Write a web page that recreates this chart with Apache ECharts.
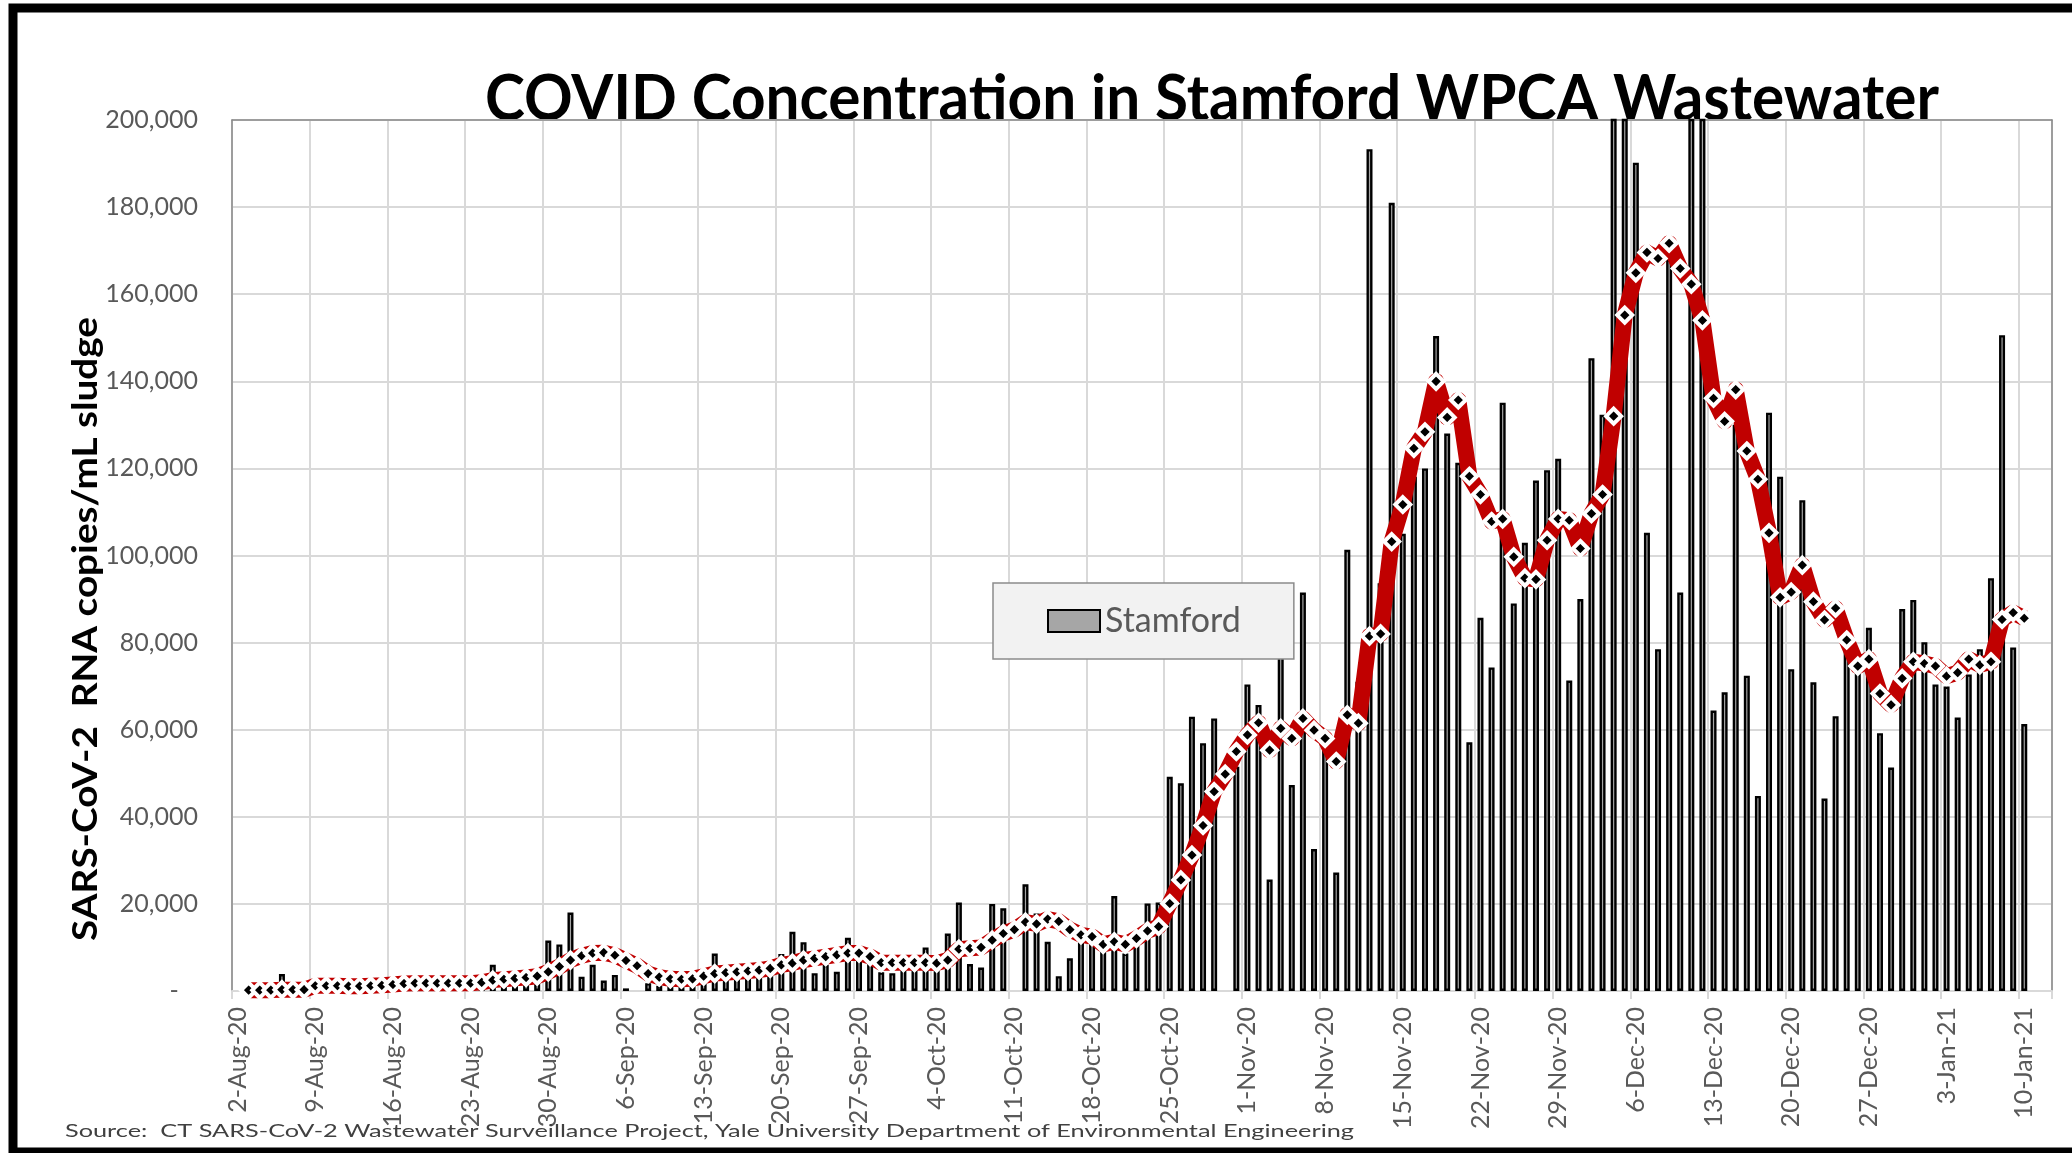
<!DOCTYPE html>
<html>
<head>
<meta charset="utf-8">
<title>COVID Concentration in Stamford WPCA Wastewater</title>
<script src="https://cdn.jsdelivr.net/npm/echarts@6/dist/echarts.min.js"></script>
<style>
  html, body { margin: 0; padding: 0; background: #fff; }
  #chart { width: 2072px; height: 1153px; }
</style>
</head>
<body>
<div id="chart"></div>
<script>
// one category per day, 2-Aug-20 .. 12-Jan-21
const firstDay = new Date(2020, 7, 2);
const dayCount = 164;
const monthNames = ['Jan','Feb','Mar','Apr','May','Jun','Jul','Aug','Sep','Oct','Nov','Dec'];

// daily SARS-CoV-2 RNA copies/mL sludge (bars), one row per week starting Sunday
const stamfordCopies = [
  null, null, null, null, 3900, null, null,                 // 2-Aug
  1200, 1000, 1300, 900, 1100, 1400, 1600,                  // 9-Aug
  2000, 1900, 1700, 1800, 1600, 2000, 1700,                 // 16-Aug
  1800, 2100, 6000, 2000, 1500, 2200, 2800,                 // 23-Aug
  11600, 10700, 18000, 3300, 6000, 2400, 3700,              // 30-Aug
  600, null, 1800, 1200, 1500, 1400, 2300,                  // 6-Sep
  2500, 8600, 5500, 4500, 3500, 4800, 6600,                 // 13-Sep
  8500, 13600, 11200, 4100, 6000, 4400, 12200,              // 20-Sep
  9000, 7000, 4300, 4100, 6000, 6000, 10000,                // 27-Sep
  6000, 13200, 20300, 6200, 5400, 20000, 19000,             // 4-Oct
  null, 24500, 17800, 11300, 3400, 7500, 12000,             // 11-Oct
  11000, 10000, 21800, 8600, 10500, 20100, 20300,           // 18-Oct
  49200, 47700, 63000, 56900, 62600, null, 51500,           // 25-Oct
  70400, 65700, 25600, 85000, 47300, 91500, 32600,          // 1-Nov
  58000, 27200, 101300, 71000, 193300, 93600, 181000,       // 8-Nov
  105000, 118100, 120000, 150400, 128000, 121300, 57100,    // 15-Nov
  85700, 74300, 135100, 89000, 102900, 117200, 119600,      // 22-Nov
  122200, 71300, 90000, 145300, 132300, 230000, 230000,     // 29-Nov
  190200, 105200, 78500, 168000, 91500, 230000, 230000,     // 6-Dec
  64400, 68600, 130000, 72400, 44800, 132800, 118100,       // 13-Dec
  73900, 112700, 70900, 44200, 63100, 79000, 74000,         // 20-Dec
  83400, 59200, 51300, 87700, 89800, 80100, 70400,          // 27-Dec
  69900, 62800, 72700, 78500, 94800, 150600, 78900,         // 3-Jan
  61300, null, null                                         // 10-Jan
];

// trailing average drawn as the red line
const trendCopies = [
  null, 200, 200, 200, 300, 300, 300,
  1200, 1200, 1200, 1100, 1100, 1200, 1300,
  1500, 1700, 1800, 1800, 1800, 1800, 1800,
  1800, 2000, 2500, 2700, 2900, 3100, 3400,
  4400, 5600, 7100, 8100, 8700, 8800, 8200,
  7000, 5800, 4000, 3200, 2800, 2700, 2800,
  3400, 4000, 4200, 4400, 4600, 4800, 5200,
  6000, 6400, 7100, 7500, 7900, 8300, 8700,
  8700, 7900, 6500, 6500, 6500, 6500, 6500,
  6400, 7100, 9600, 9800, 10000, 11700, 13200,
  14100, 15800, 15400, 16500, 16000, 14100, 12900,
  12500, 10700, 11300, 10700, 12100, 13800, 14800,
  20100, 25500, 31200, 38000, 45800, 49800, 55000,
  58800, 61600, 55300, 60300, 58000, 62600, 59900,
  58000, 52700, 63400, 61500, 81500, 82000, 103200,
  111700, 124600, 128400, 140000, 131700, 135700, 118200,
  114000, 107800, 108400, 99700, 94800, 94500, 103500,
  108400, 108100, 101600, 109600, 114000, 132000, 155200,
  164900, 169600, 168200, 171700, 165900, 162300, 154000,
  136100, 130800, 138100, 124000, 117500, 105200, 90400,
  91600, 97800, 89400, 85200, 87900, 80600, 74600,
  76200, 68300, 65700, 71800, 75600, 75200, 74600,
  72300, 73100, 76200, 74900, 75600, 85300, 86900,
  85600, null, null
];

const yMax = 200000;
const yStep = 20000;

const titleText = 'COVID Concentration in Stamford WPCA Wastewater';
const yNameText = 'SARS-CoV-2  RNA copies/mL sludge';
const sourceText = 'Source:  CT SARS-CoV-2 Wastewater Surveillance Project, Yale University Department of Environmental Engineering';

const dates = [];
for (let i = 0; i < dayCount; i++) {
  const d = new Date(firstDay.getFullYear(), firstDay.getMonth(), firstDay.getDate() + i);
  dates.push(d.getDate() + '-' + monthNames[d.getMonth()] + '-' + String(d.getFullYear()).slice(2));
}

// Calibri is not installed: squeeze Lato to the same text widths
const measureCtx = document.createElement('canvas').getContext('2d');
function fitScale(text, font, width) {
  measureCtx.font = font;
  return width / measureCtx.measureText(text).width;
}

const titleFont = 'bold 64px Lato';
const yNameFont = 'bold 35px Lato';
const sourceFont = '18px Lato';
const gridGrey = '#d9d9d9';
const frameGrey = '#898989';
const labelGrey = '#595959';

const chart = echarts.init(document.getElementById('chart'));
chart.setOption({
  animation: false,
  backgroundColor: '#fff',
  grid: { left: 232, top: 120, right: 20, bottom: 162, containLabel: false, outerBoundsMode: 'none' },
  legend: {
    data: ['Stamford'],
    left: 993, top: 583,
    padding: [21, 53, 21, 54],
    backgroundColor: '#f2f2f2',
    borderColor: '#8c8c8c',
    borderWidth: 1.5,
    borderRadius: 0,
    icon: 'rect',
    itemWidth: 52,
    itemHeight: 22,
    selectedMode: false,
    itemStyle: { color: '#a6a6a6', borderColor: '#000', borderWidth: 2 },
    textStyle: { fontFamily: 'Lato', fontSize: 34, color: labelGrey }
  },
  xAxis: [{
    type: 'category',
    data: dates,
    boundaryGap: true,
    axisLine: { show: true, lineStyle: { color: gridGrey, width: 2 } },
    axisTick: { show: true, interval: 6, length: 8, lineStyle: { color: gridGrey, width: 2 } },
    axisLabel: { interval: 6, rotate: 90, margin: 16, fontFamily: 'Lato', fontSize: 25, color: labelGrey },
    splitLine: { show: true, interval: 6, lineStyle: { color: gridGrey, width: 2 } }
  }, {
    type: 'category',
    data: dates,
    position: 'top',
    axisLine: { show: true, onZero: false, lineStyle: { color: frameGrey, width: 1.5 } },
    axisTick: { show: false },
    axisLabel: { show: false },
    splitLine: { show: false }
  }],
  yAxis: [{
    type: 'value',
    min: 0, max: yMax, interval: yStep,
    axisLine: { show: true, lineStyle: { color: frameGrey, width: 1.5 } },
    axisTick: { show: false },
    axisLabel: {
      margin: 34, fontFamily: 'Lato', fontSize: 25, color: labelGrey,
      formatter: v => v === 0 ? '-   ' : v.toLocaleString('en-US')
    },
    splitLine: { show: true, lineStyle: { color: gridGrey, width: 2 } }
  }, {
    type: 'value',
    min: 0, max: yMax, interval: yStep,
    position: 'right',
    axisLine: { show: true, lineStyle: { color: frameGrey, width: 1.5 } },
    axisTick: { show: false },
    axisLabel: { show: false },
    splitLine: { show: false }
  }],
  series: [{
    name: 'Stamford',
    type: 'bar',
    data: stamfordCopies,
    barWidth: 6,
    clip: true,
    itemStyle: { color: '#a6a6a6', borderColor: '#000', borderWidth: 2.4 },
    z: 2
  }, {
    name: 'trend',
    type: 'line',
    data: trendCopies,
    symbol: 'diamond',
    symbolSize: 15,
    showAllSymbol: true,
    lineStyle: { color: '#c00000', width: 16, join: 'round' },
    itemStyle: { color: '#000', borderColor: '#fff', borderWidth: 4 },
    z: 3
  }],
  graphic: [{
    type: 'rect', silent: true, z: 100,
    shape: { x: 13, y: 8, width: 2100, height: 1144 },
    style: { fill: 'none', stroke: '#000', lineWidth: 9 }
  }, {
    type: 'text', x: 1212, y: 99,
    scaleX: fitScale(titleText, titleFont, 1454),
    style: { text: titleText, font: titleFont, fill: '#000', align: 'center', verticalAlign: 'middle', textAlign: 'center', textVerticalAlign: 'middle' }
  }, {
    type: 'text', x: 86, y: 629, rotation: Math.PI / 2,
    scaleX: fitScale(yNameText, yNameFont, 624),
    style: { text: yNameText, font: yNameFont, fill: '#000', align: 'center', verticalAlign: 'middle', textAlign: 'center', textVerticalAlign: 'middle' }
  }, {
    type: 'text', x: 65, y: 1131, z: 50,
    scaleX: fitScale(sourceText, sourceFont, 1289),
    style: { text: sourceText, font: sourceFont, fill: '#404040', align: 'left', verticalAlign: 'middle', textAlign: 'left', textVerticalAlign: 'middle' }
  }]
});
</script>
</body>
</html>
